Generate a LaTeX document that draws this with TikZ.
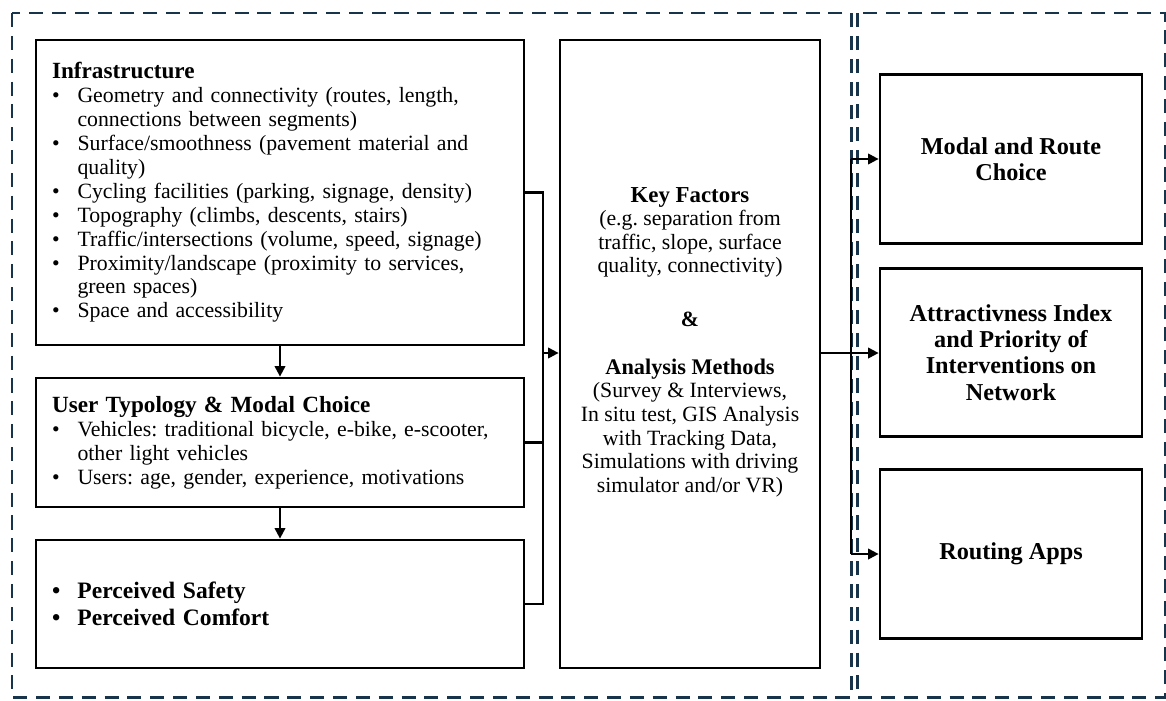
\documentclass[tikz,border=0pt]{standalone}
\usepackage{fontspec}
\setmainfont{Liberation Serif}
\usetikzlibrary{arrows.meta}

\definecolor{framenavy}{HTML}{17344A}

\newcommand{\bul}{\makebox[14.5pt][l]{\textbullet}}
\newcommand{\bulind}{\hspace*{14.5pt}}
\frenchspacing

\begin{document}
\begin{tikzpicture}[
    x=0.02cm, y=-0.02cm,
    box/.style={draw, line width=1.6pt, rectangle, inner sep=0pt},
    listbox/.style={box, text width=9.12cm, inner xsep=0.32cm, align=left,
        font=\fontsize{12.4}{13.6}\selectfont},
    outbox/.style={box, minimum width=5.24cm, minimum height=3.37cm, align=center,
        font=\fontsize{13.8}{14.9}\selectfont\bfseries},
    frame/.style={draw=framenavy, line width=1.7pt, dash pattern=on 8pt off 5pt},
    link/.style={line width=1.2pt},
    >={Triangle[length=6pt,width=6pt]}
]
\useasboundingbox (0,0) rectangle (1166,700);

% Frames
\draw[frame] (12,13) rectangle (851,697);
\draw[frame] (857,13) rectangle (1165,697);

% Nodes
\node[listbox, minimum height=6.1cm] (infra) at (280,192.5) {%
{\fontsize{13.2}{14}\selectfont\bfseries Infrastructure}\\
\bul Geometry and connectivity (routes, length,\\
\bulind connections between segments)\\
\bul Surface/smoothness (pavement material and\\
\bulind quality)\\
\bul Cycling facilities (parking, signage, density)\\
\bul Topography (climbs, descents, stairs)\\
\bul Traffic/intersections (volume, speed, signage)\\
\bul Proximity/landscape (proximity to services,\\
\bulind green spaces)\\
\bul Space and accessibility};

\node[listbox, minimum height=2.58cm] (user) at (280,442.5) {%
{\fontsize{13.2}{14}\selectfont\bfseries User Typology \& Modal Choice}\\
\bul Vehicles: traditional bicycle, e-bike, e-scooter,\\
\bulind other light vehicles\\
\bul Users: age, gender, experience, motivations};

\node[listbox, minimum height=2.56cm, font=\fontsize{13.4}{15.6}\selectfont\bfseries] (perceived) at (280,604) {%
\bul Perceived Safety\\
\bul Perceived Comfort};

\node[box, minimum width=5.2cm, minimum height=12.56cm] (key) at (690,354) {};
\node[align=center, font=\fontsize{12.4}{13.4}\selectfont] (keytxt) at (690,342) {%
{\fontsize{13}{13.4}\selectfont\bfseries Key Factors}\\
(e.g. separation from\\
traffic, slope, surface\\
quality, connectivity)\\[17pt]
\textbf{\&}\\[14pt]
{\fontsize{12.7}{13.4}\selectfont\bfseries Analysis Methods}\\
(Survey \& Interviews,\\
In situ test, GIS Analysis\\
with Tracking Data,\\
Simulations with driving\\
simulator and/or VR)};

\node[outbox] (modal) at (1011,159) {Modal and Route\\Choice};
\node[outbox] (attract) at (1011,352.5) {Attractivness Index\\and Priority of\\Interventions on\\Network};
\node[outbox] (routing) at (1011,554) {Routing Apps};

\coordinate (jl) at (543,353);
\coordinate (jr) at (851,353);

% Edges
\draw[link, ->] (infra) -- (user);
\draw[link, ->] (user) -- (perceived);
\draw[link] (infra.east) -| (jl);
\draw[link] (user.east) -| (jl);
\draw[link] (perceived.east) -| (jl);
\draw[link, ->] (jl) -- (jl -| key.west);
\draw[link, ->] (key.east |- jr) -- (jr -| attract.west);
\draw[link] (modal.west -| jr) -- (routing.west -| jr);
\draw[link, ->] (modal.west -| jr) -- (modal.west);
\draw[link, ->] (routing.west -| jr) -- (routing.west);

\end{tikzpicture}
\end{document}
